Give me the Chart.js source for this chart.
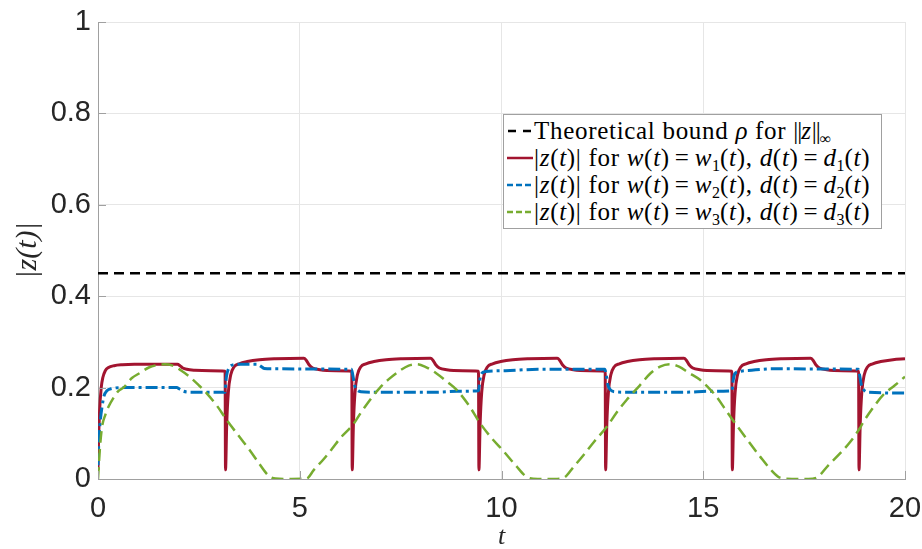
<!DOCTYPE html>
<html>
<head>
<meta charset="utf-8">
<script src="https://cdn.jsdelivr.net/npm/chart.js@4.4.1/dist/chart.umd.min.js"></script>
<style>
  body { margin: 0; background: #fff; overflow: hidden; }
  #wrap { position: relative; width: 922px; height: 549px; }
  #wrap canvas { display: block; }
  #legend {
    position: absolute; left: 503px; top: 114px; width: 377px; height: 111px;
    border: 1px solid #a0a0a0; background: #fff; color: #000;
    font-family: "Liberation Serif", serif; font-size: 25px; padding-top: 2px;
  }
  .row { display: flex; align-items: center; height: 27px; white-space: nowrap; }
  .row svg { flex: none; margin-left: 3px; margin-right: 1px; }
  .row > span { white-space: pre; letter-spacing: 0.7px; }
  .eq { padding: 0 5px; }
  .nb { letter-spacing: -1px; }
  sub { font-size: 16px; vertical-align: -5px; line-height: 0; letter-spacing: 0; }
</style>
</head>
<body>
<div id="wrap">
  <canvas id="ChartCanvas"></canvas>
  <div id="legend">
    <div class="row"><svg width="26" height="6"><line x1="1" y1="3" x2="26" y2="3" stroke="#000" stroke-width="2.5" stroke-dasharray="8,7"/></svg><span>Theoretical bound <i>ρ</i> for <span class="nb">||</span><i>z</i><span class="nb">||</span><sub>∞</sub></span></div>
    <div class="row"><svg width="26" height="6"><line x1="0" y1="3" x2="26" y2="3" stroke="#A2142F" stroke-width="2.5"/></svg><span>|<i>z</i>(<i>t</i>)| for <i>w</i>(<i>t</i>)<span class="eq">=</span><i>w</i><sub>1</sub>(<i>t</i>), <i>d</i>(<i>t</i>)<span class="eq">=</span><i>d</i><sub>1</sub>(<i>t</i>)</span></div>
    <div class="row"><svg width="26" height="6"><line x1="0" y1="3" x2="26" y2="3" stroke="#0072BD" stroke-width="2.5" stroke-dasharray="6,3"/></svg><span>|<i>z</i>(<i>t</i>)| for <i>w</i>(<i>t</i>)<span class="eq">=</span><i>w</i><sub>2</sub>(<i>t</i>), <i>d</i>(<i>t</i>)<span class="eq">=</span><i>d</i><sub>2</sub>(<i>t</i>)</span></div>
    <div class="row"><svg width="26" height="6"><line x1="0" y1="3" x2="26" y2="3" stroke="#77AC30" stroke-width="2.5" stroke-dasharray="6,3"/></svg><span>|<i>z</i>(<i>t</i>)| for <i>w</i>(<i>t</i>)<span class="eq">=</span><i>w</i><sub>3</sub>(<i>t</i>), <i>d</i>(<i>t</i>)<span class="eq">=</span><i>d</i><sub>3</sub>(<i>t</i>)</span></div>
  </div>
</div>
<script>
const xTicks = [0, 5, 10, 15, 20];
const yTicks = [0, 0.2, 0.4, 0.6, 0.8, 1];
const yTickLabels = ['0', '0.2', '0.4', '0.6', '0.8', '1'];

const tBound = [0, 20];
const zBound = [0.45, 0.45];

// w1, d1
const tRed = [0, 0.01, 0.04, 0.08, 0.12, 0.18, 0.26, 0.4, 0.6, 0.9, 1.97, 2.03, 2.1, 2.2, 2.4, 2.8, 3.15,
  3.16, 3.19, 3.23, 3.29, 3.37, 3.5, 3.7, 4.0, 4.4, 5.1, 5.16, 5.23, 5.32, 5.5, 5.9, 6.29,
  6.30, 6.33, 6.37, 6.43, 6.51, 6.64, 6.84, 7.14, 7.54, 8.24, 8.30, 8.37, 8.46, 8.64, 9.04, 9.43,
  9.44, 9.47, 9.51, 9.57, 9.65, 9.78, 9.98, 10.28, 10.68, 11.38, 11.44, 11.51, 11.6, 11.78, 12.18, 12.57,
  12.58, 12.61, 12.65, 12.71, 12.79, 12.92, 13.12, 13.42, 13.82, 14.52, 14.58, 14.65, 14.74, 14.92, 15.32, 15.71,
  15.72, 15.75, 15.79, 15.85, 15.93, 16.06, 16.26, 16.56, 16.96, 17.66, 17.72, 17.79, 17.88, 18.06, 18.46, 18.85,
  18.86, 18.89, 18.93, 18.99, 19.07, 19.2, 19.4, 19.7, 20];
const zRed = [0.02, 0.07, 0.15, 0.2, 0.222, 0.237, 0.244, 0.248, 0.25, 0.251, 0.251, 0.248, 0.243, 0.24, 0.238, 0.237, 0.236,
  0.02, 0.12, 0.19, 0.228, 0.245, 0.252, 0.257, 0.261, 0.263, 0.264, 0.26, 0.25, 0.243, 0.239, 0.237, 0.236,
  0.02, 0.12, 0.19, 0.228, 0.245, 0.252, 0.257, 0.261, 0.263, 0.264, 0.26, 0.25, 0.243, 0.239, 0.237, 0.236,
  0.02, 0.12, 0.19, 0.228, 0.245, 0.252, 0.257, 0.261, 0.263, 0.264, 0.26, 0.25, 0.243, 0.239, 0.237, 0.236,
  0.02, 0.12, 0.19, 0.228, 0.245, 0.252, 0.257, 0.261, 0.263, 0.264, 0.26, 0.25, 0.243, 0.239, 0.237, 0.236,
  0.02, 0.12, 0.19, 0.228, 0.245, 0.252, 0.257, 0.261, 0.263, 0.264, 0.26, 0.25, 0.243, 0.239, 0.237, 0.236,
  0.02, 0.12, 0.19, 0.228, 0.245, 0.252, 0.257, 0.261, 0.263];

// w2, d2
const tBlue = [0, 0.02, 0.06, 0.1, 0.15, 0.22, 0.35, 0.6, 1.95, 2.02, 2.12, 2.3, 3.15,
  3.17, 3.2, 3.26, 3.36, 3.5, 3.95, 4.03, 4.12, 4.3, 6.28,
  6.32, 6.36, 6.42, 6.52, 6.8, 8.4, 8.9, 9.43,
  9.46, 9.5, 9.6, 10.1, 10.9, 12.56,
  12.6, 12.64, 12.7, 12.8, 13.1, 14.6, 15.1, 15.71,
  15.74, 15.78, 15.88, 16.2, 16.7, 18.84,
  18.88, 18.92, 18.98, 19.08, 20];
const zBlue = [0.03, 0.08, 0.13, 0.158, 0.182, 0.193, 0.198, 0.2, 0.2, 0.197, 0.192, 0.19, 0.19,
  0.215, 0.232, 0.245, 0.25, 0.251, 0.251, 0.247, 0.242, 0.241, 0.24,
  0.225, 0.205, 0.195, 0.191, 0.19, 0.19, 0.192, 0.193,
  0.215, 0.23, 0.235, 0.237, 0.24, 0.24,
  0.225, 0.205, 0.195, 0.191, 0.19, 0.19, 0.192, 0.193,
  0.215, 0.23, 0.235, 0.238, 0.241, 0.24,
  0.225, 0.205, 0.195, 0.19, 0.188];

// w3, d3
const tGreen = [0, 0.05, 0.1, 0.18, 0.26, 0.4, 0.51, 0.63, 0.84, 1.04, 1.26, 1.45, 1.66, 1.85, 2.05, 2.28, 2.5, 2.69, 2.95,
  3.19, 3.5, 3.77, 4.0, 4.22, 4.4, 4.8, 5.17, 5.35, 5.58, 5.8, 6.0, 6.33, 6.5, 6.74, 6.99, 7.2, 7.48, 7.7, 7.9,
  8.1, 8.39, 8.65, 8.89, 9.2, 9.47, 9.75, 10.04, 10.35, 10.62, 10.9, 11.3, 11.53, 11.8, 12.03, 12.3, 12.6, 12.85,
  13.1, 13.43, 13.7, 13.93, 14.18, 14.4, 14.65, 14.92, 15.15, 15.33, 15.55, 15.79, 16.1, 16.41, 16.7, 16.9, 17.2,
  17.6, 17.81, 18.1, 18.39, 18.64, 18.88, 18.97, 19.2, 19.46, 19.75, 20];
const zGreen = [0, 0.07, 0.114, 0.14, 0.158, 0.18, 0.193, 0.2, 0.221, 0.232, 0.244, 0.249, 0.251, 0.248, 0.238, 0.223, 0.205, 0.188, 0.16,
  0.129, 0.093, 0.062, 0.033, 0.008, 0.001, 0, 0.001, 0.02, 0.042, 0.066, 0.089, 0.12, 0.143, 0.173, 0.2, 0.218, 0.237, 0.248, 0.251,
  0.246, 0.231, 0.213, 0.195, 0.16, 0.122, 0.09, 0.062, 0.03, 0.005, 0, 0, 0.002, 0.028, 0.052, 0.082, 0.113, 0.145,
  0.173, 0.205, 0.232, 0.246, 0.251, 0.246, 0.232, 0.217, 0.198, 0.18, 0.152, 0.122, 0.085, 0.049, 0.018, 0.003, 0,
  0, 0.003, 0.03, 0.056, 0.081, 0.111, 0.125, 0.155, 0.184, 0.205, 0.224];

const pts = (ts, zs) => ts.map((t, i) => ({x: t, y: zs[i]}));

const innerTicks = {
  id: 'innerTicks',
  afterDraw: chart => {
    const {ctx, chartArea, scales} = chart;
    ctx.save();
    ctx.strokeStyle = '#a0a0a0';
    ctx.lineWidth = 1;
    ctx.beginPath();
    xTicks.forEach(v => {
      const px = Math.round(scales.x.getPixelForValue(v)) + 0.5;
      ctx.moveTo(px, chartArea.bottom);
      ctx.lineTo(px, chartArea.bottom - 8);
    });
    yTicks.forEach(v => {
      const py = Math.round(scales.y.getPixelForValue(v)) + 0.5;
      ctx.moveTo(chartArea.left, py);
      ctx.lineTo(chartArea.left + 8, py);
    });
    ctx.stroke();
    ctx.restore();
  }
};

const lineStyle = {
  pointRadius: 0,
  fill: false,
  cubicInterpolationMode: 'monotone',
};

new Chart(document.getElementById('ChartCanvas'), {
  type: 'line',
  data: {
    datasets: [{
      label: 'Theoretical bound',
      data: pts(tBound, zBound),
      borderColor: '#000',
      borderWidth: 2.5,
      borderDash: [10, 6],
      order: 3,
      ...lineStyle
    }, {
      label: 'w1 d1',
      data: pts(tRed, zRed),
      borderColor: '#A2142F',
      borderWidth: 3,
      order: 2,
      ...lineStyle
    }, {
      label: 'w2 d2',
      data: pts(tBlue, zBlue),
      borderColor: '#0072BD',
      borderWidth: 3,
      borderDash: [12, 4, 3, 4],
      order: 1,
      ...lineStyle
    }, {
      label: 'w3 d3',
      data: pts(tGreen, zGreen),
      borderColor: '#77AC30',
      borderWidth: 2.5,
      borderDash: [12, 6],
      order: 0,
      ...lineStyle
    }]
  },
  options: {
    animation: false,
    responsive: true,
    maintainAspectRatio: false,
    layout: { autoPadding: false, padding: { top: 22, right: 17, left: 0, bottom: 0 } },
    plugins: { legend: { display: false }, tooltip: { enabled: false } },
    scales: {
      x: {
        type: 'linear',
        min: 0, max: 20,
        afterFit: s => { s.height = 70; s.paddingLeft = 0; s.paddingRight = 0; },
        afterBuildTicks: s => { s.ticks = xTicks.map(v => ({value: v})); },
        grid: { color: '#e6e6e6', tickLength: 0 },
        border: { color: '#a0a0a0' },
        ticks: { color: '#262626', padding: 13, maxRotation: 0, font: { family: 'Liberation Sans', size: 29 } },
        title: { display: true, text: 't', color: '#262626', padding: 0,
          font: { family: 'Liberation Serif', style: 'italic', size: 26, lineHeight: 0.9 } }
      },
      y: {
        min: 0, max: 1,
        afterFit: s => { s.width = 98; s.paddingTop = 0; s.paddingBottom = 0; },
        afterBuildTicks: s => { s.ticks = yTicks.map(v => ({value: v})); },
        grid: { color: '#e6e6e6', tickLength: 0 },
        border: { color: '#a0a0a0' },
        ticks: { color: '#262626', padding: 7, font: { family: 'Liberation Sans', size: 29 },
          callback: (v, i) => yTickLabels[i] },
        title: { display: true, text: '|z(t)|', color: '#262626', padding: { top: 10, bottom: 0 },
          font: { family: 'Liberation Serif', style: 'italic', size: 30, lineHeight: 1.2 } }
      }
    }
  },
  plugins: [innerTicks]
});
</script>
</body>
</html>
